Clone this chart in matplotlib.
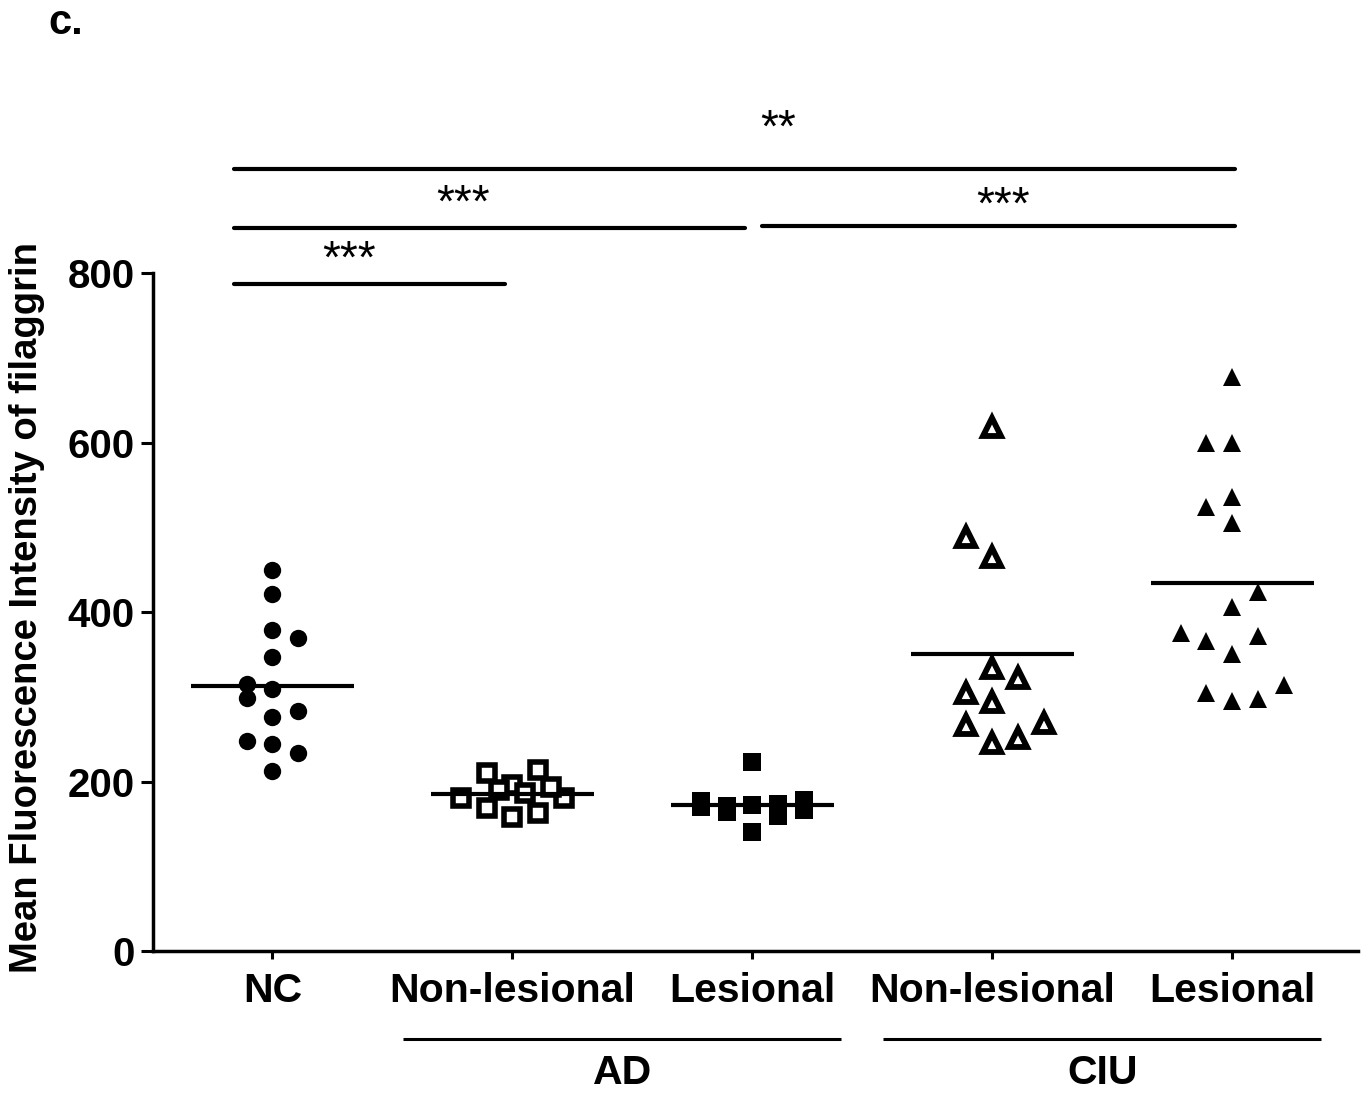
import numpy as np
import matplotlib
matplotlib.use("Agg")
import matplotlib.pyplot as plt

plt.rcParams["font.family"] = ["Liberation Sans", "DejaVu Sans"]

# values (mean fluorescence intensity of filaggrin)
categories = ["NC", "Non-lesional", "Lesional", "Non-lesional", "Lesional"]
disease_groups = ["AD", "CIU"]
disease_members = [(1, 2), (3, 4)]
y_ticks = [0, 200, 400, 600, 800]

nc_values = [449.6, 420.9, 378.8, 369.0, 347.3, 315.0, 308.8, 298.9,
             283.6, 276.5, 247.8, 243.9, 233.3, 212.4]
nc_cols = [0, 0, 0, 1, 0, -1, 0, -1, 1, 0, -1, 0, 1, 0]

ad_nl_values = [209.7, 213.6, 195.9, 180.9, 180.9, 193.9, 168.4, 158.5,
                162.5, 190.0, 186.0]
ad_nl_cols = [-1, 1, 0, -2, 2, 1.5, -1, 0, 1, -0.5, 0.5]

ad_l_values = [223.0, 177.0, 170.0, 171.5, 164.0, 172.0, 141.0, 173.5,
               159.0, 178.0, 166.0]
ad_l_cols = [0, -2, -2, -1, -1, 0, 0, 1, 1, 2, 2]

ciu_nl_values = [618.6, 488.9, 465.3, 333.6, 321.8, 304.1, 294.2, 266.7,
                 268.7, 245.0, 251.0]
ciu_nl_cols = [0, -1, 0, 0, 1, -1, 0, -1, 2, 0, 1]

ciu_l_values = [677.6, 599.0, 599.0, 536.0, 523.5, 504.5, 424.0, 406.3,
                374.9, 366.1, 371.7, 350.4, 304.0, 295.3, 297.0, 313.9]
ciu_l_cols = [0, -1, 0, 0, -1, 0, 1, 0, -2, -1, 1, 0, -1, 0, 1, 2]

# pairwise comparisons: (first group, last group, label)
comparisons = [(0, 4, "**"), (0, 2, "***"), (2, 4, "***"), (0, 1, "***")]

groups = [(nc_values, nc_cols), (ad_nl_values, ad_nl_cols), (ad_l_values, ad_l_cols),
          (ciu_nl_values, ciu_nl_cols), (ciu_l_values, ciu_l_cols)]

styles = [
    dict(marker="o", markersize=12.5, mfc="black", mec="black", mew=0),
    dict(marker="s", markersize=11.5, mfc="white", mec="black", mew=4),
    dict(marker="s", markersize=12.5, mfc="black", mec="black", mew=0),
    dict(marker="^", markersize=13, mfc="white", mec="black", mew=4.2),
    dict(marker="^", markersize=12.5, mfc="black", mec="black", mew=0),
]

fig = plt.figure(figsize=(13.62, 10.94), dpi=100)
ax = fig.add_axes([0.1123, 0.1307, 0.8847, 0.6197])

col_step = 0.108
for i, ((vals, cols), st) in enumerate(zip(groups, styles)):
    x = i + np.array(cols) * col_step
    ax.plot(x, vals, ls="none", zorder=3, clip_on=False, **st)
    m = np.mean(vals)
    ax.plot([i - 0.34, i + 0.34], [m, m], color="black", lw=3,
            solid_capstyle="butt", zorder=4)

ax.set_xlim(-0.498, 4.523)
ax.set_ylim(0, 800)
ax.spines[["top", "right"]].set_visible(False)
for s in ["left", "bottom"]:
    ax.spines[s].set_linewidth(2.5)

ax.set_yticks(y_ticks)
ax.set_xticks(range(len(categories)), categories)
ax.tick_params(axis="y", length=9, width=2.2, pad=4, labelsize=29)
ax.tick_params(axis="x", length=6, width=2.2, pad=9, labelsize=29.5)
for lab in ax.get_xticklabels() + ax.get_yticklabels():
    lab.set_fontweight("bold")

ax.set_ylabel("Mean Fluorescence Intensity of filaggrin", fontsize=27.5,
              fontweight="bold", va="center")
ax.yaxis.set_label_coords(-0.1046, 0.507)

# disease group brackets under the axis
for name, (a, b) in zip(disease_groups, disease_members):
    ax.plot([a - 0.455, b + 0.37], [-104, -104], color="black", lw=2.2,
            clip_on=False, solid_capstyle="butt")
    ax.text((a + b) / 2 - 0.04, -121, name, ha="center", va="top",
            fontsize=29.5, fontweight="bold")

# significance bars above the data
bar_levels = [923, 853.5, 855.5, 787]
label_levels = [955, 866, 864, 800]
label_shift = [0.18, -0.11, 0.02, -0.085]
for (a, b, lab), yb, yl, dx in zip(comparisons, bar_levels, label_levels, label_shift):
    x0 = a - 0.16 if a == 0 else a + 0.04
    x1 = b + 0.01 if b == len(categories) - 1 else b - 0.03
    ax.plot([x0, x1], [yb, yb], color="black", lw=3, clip_on=False,
            solid_capstyle="round")
    ax.text((x0 + x1) / 2 + dx, yl, lab, ha="center", va="baseline",
            fontsize=33)

fig.text(48 / 1362, 1 - 34 / 1094, "c.", fontsize=30, fontweight="bold",
         ha="left", va="baseline")

fig.savefig("out.png", dpi=100)
